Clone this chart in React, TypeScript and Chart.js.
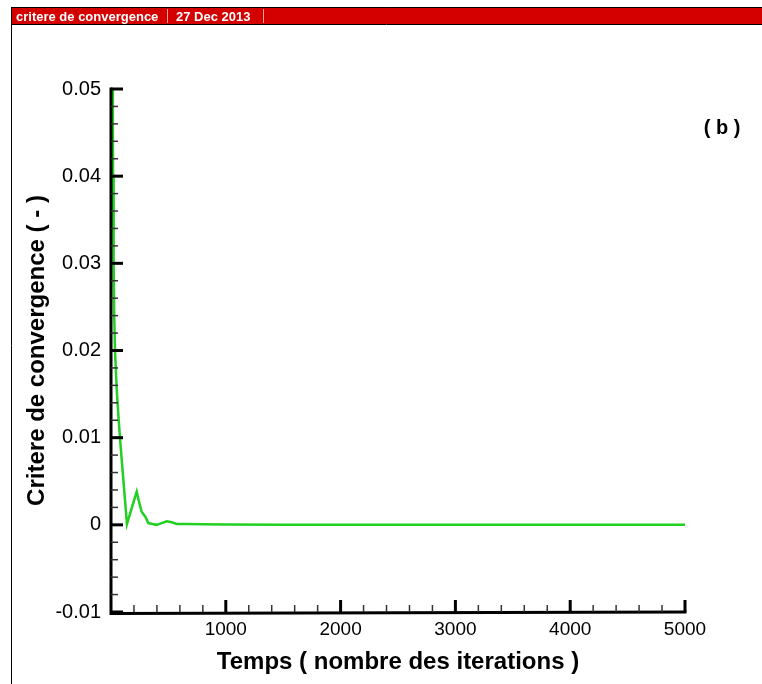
import { useEffect, useRef } from 'react';
import { Chart, registerables } from 'chart.js';

Chart.register(...registerables);

// ---- data ----
const iterations = [12, 16, 18, 23, 28, 35, 50, 62, 78, 100, 139, 224, 245, 267, 300, 325, 360, 398, 440, 485, 530, 572, 650, 800, 1000, 1500, 2000, 3000, 4000, 5000];
const convergence = [0.056, 0.046, 0.04, 0.03, 0.024, 0.02, 0.0155, 0.013, 0.01, 0.0064, 0.0001, 0.0038, 0.0026, 0.0015, 0.0009, 0.0002, 0.0001, 0.0, 0.0002, 0.0004, 0.0003, 0.0001, 0.0001, 0.00006, 0.00004, 0.00002, 0.00001, 0, 0, 0];

const xMin = 0;
const xMax = 5000;
const xStep = 1000;
const xMinorStep = 200;
const yMin = -0.01;
const yMax = 0.05;
const yStep = 0.01;
const yMinorStep = 0.002;

const bannerTitle = 'critere de convergence';
const bannerDate = '27 Dec 2013';
const panelLabel = '( b )';
const xTitle = 'Temps ( nombre des iterations )';
const yTitle = 'Critere de convergence ( - )';

const FONT = '"Liberation Sans", Arial, Helvetica, sans-serif';

export default function App() {
  const ref = useRef<HTMLCanvasElement>(null);

  useEffect(() => {
    const canvas = ref.current;
    if (!canvas) return;

    const framePlugin = {
      id: 'frame',
      beforeDraw(chart: any) {
        const ctx = chart.ctx;
        ctx.save();
        ctx.fillStyle = '#ffffff';
        ctx.fillRect(0, 0, chart.width, chart.height);
        ctx.restore();
      },
      afterDraw(chart: any) {
        const ctx = chart.ctx;
        const xs = chart.scales.x;
        const ys = chart.scales.y;
        const area = chart.chartArea;
        ctx.save();

        // banner
        ctx.fillStyle = '#d40000';
        ctx.fillRect(11, 7, chart.width - 11, 17);
        ctx.strokeStyle = '#000';
        ctx.lineWidth = 1;
        ctx.beginPath();
        ctx.moveTo(11, 7.5);
        ctx.lineTo(chart.width, 7.5);
        ctx.moveTo(11, 24.5);
        ctx.lineTo(chart.width, 24.5);
        ctx.moveTo(11.5, 7);
        ctx.lineTo(11.5, chart.height);
        ctx.stroke();
        ctx.strokeStyle = '#f3a0a0';
        ctx.beginPath();
        ctx.moveTo(167.5, 9);
        ctx.lineTo(167.5, 23);
        ctx.moveTo(263.5, 9);
        ctx.lineTo(263.5, 23);
        ctx.stroke();
        ctx.fillStyle = '#ffffff';
        ctx.font = `bold 13px ${FONT}`;
        ctx.textBaseline = 'alphabetic';
        ctx.textAlign = 'left';
        ctx.fillText(bannerTitle, 16, 21);
        ctx.fillText(bannerDate, 176, 21);

        // axes
        const x0 = area.left;
        const y0 = area.bottom;
        ctx.strokeStyle = '#000';
        ctx.lineWidth = 3;
        ctx.beginPath();
        ctx.moveTo(x0, area.top - 1.5);
        ctx.lineTo(x0, y0 + 1.5);
        ctx.lineTo(area.right + 1.5, y0);
        ctx.stroke();

        // y ticks (inward)
        const nYMinor = Math.round((yMax - yMin) / yMinorStep);
        for (let i = 0; i <= nYMinor; i++) {
          const v = yMin + i * yMinorStep;
          const major = i % 5 === 0;
          const py = ys.getPixelForValue(v);
          ctx.lineWidth = major ? 3 : 1.5;
          ctx.strokeStyle = major ? '#000' : '#333';
          ctx.beginPath();
          ctx.moveTo(x0, py);
          ctx.lineTo(x0 + (major ? 12 : 7), py);
          ctx.stroke();
        }
        // x ticks (inward)
        const nXMinor = Math.round((xMax - xMin) / xMinorStep);
        for (let i = 1; i <= nXMinor; i++) {
          const v = xMin + i * xMinorStep;
          const major = i % 5 === 0;
          const px = xs.getPixelForValue(v);
          ctx.lineWidth = major ? 3 : 1.5;
          ctx.strokeStyle = major ? '#000' : '#333';
          ctx.beginPath();
          ctx.moveTo(px, y0);
          ctx.lineTo(px, y0 - (major ? 12 : 7));
          ctx.stroke();
        }

        // panel label
        ctx.fillStyle = '#000';
        ctx.font = `bold 20px ${FONT}`;
        ctx.textAlign = 'center';
        ctx.textBaseline = 'middle';
        ctx.fillText(panelLabel, 722, 128);

        ctx.restore();
      },
    };

    const chart = new Chart(canvas, {
      type: 'line',
      data: {
        datasets: [
          {
            data: iterations.map((x, i) => ({ x, y: convergence[i] })),
            borderColor: '#22d022',
            borderWidth: 2.5,
            pointRadius: 0,
            tension: 0,
            fill: false,
          },
        ],
      },
      options: {
        animation: false,
        responsive: false,
        events: [],
        layout: { padding: { left: 0, top: 89, right: 77, bottom: 0 } },
        plugins: { legend: { display: false }, tooltip: { enabled: false } },
        scales: {
          x: {
            type: 'linear',
            min: xMin,
            max: xMax,
            grid: { display: false, drawTicks: false },
            border: { display: false },
            ticks: {
              stepSize: xStep,
              autoSkip: false,
              maxRotation: 0,
              padding: 6,
              color: '#000',
              font: { family: FONT, size: 19 },
              callback: (v: any) => (Number(v) === 0 ? '' : String(v)),
            },
            title: {
              display: true,
              text: xTitle,
              color: '#000',
              font: { family: FONT, size: 24, weight: 'bold' },
              padding: { top: 0, bottom: 7 },
            },
            afterFit(scale: any) {
              scale.height = 72;
            },
          },
          y: {
            type: 'linear',
            min: yMin,
            max: yMax,
            grid: { display: false, drawTicks: false },
            border: { display: false },
            ticks: {
              stepSize: yStep,
              autoSkip: false,
              padding: 10,
              color: '#000',
              font: { family: FONT, size: 20 },
              callback: (v: any) => String(parseFloat(Number(v).toFixed(3))),
            },
            title: {
              display: true,
              text: yTitle,
              color: '#000',
              font: { family: FONT, size: 24, weight: 'bold' },
              padding: { top: 23, bottom: 0 },
            },
            afterFit(scale: any) {
              scale.width = 111;
            },
          },
        },
      },
      plugins: [framePlugin],
    } as any);

    return () => chart.destroy();
  }, []);

  return (
    <div style={{ position: 'absolute', left: 0, top: 0, width: 762, height: 684, background: '#fff' }}>
      <canvas ref={ref} width={762} height={684} style={{ display: 'block', width: 762, height: 684 }} />
    </div>
  );
}
